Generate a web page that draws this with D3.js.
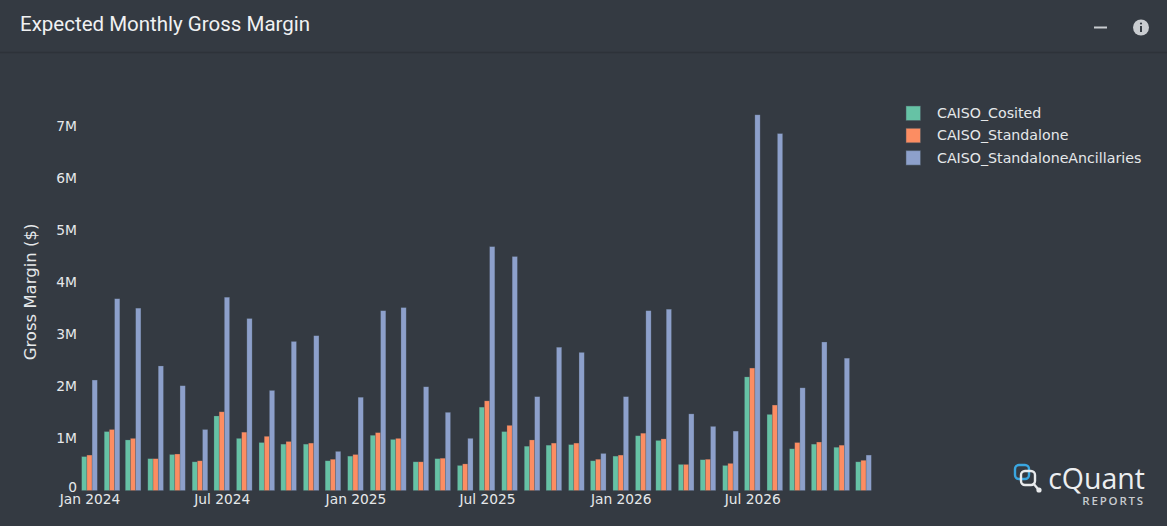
<!DOCTYPE html>
<html>
<head>
<meta charset="utf-8">
<script src="https://cdn.jsdelivr.net/npm/d3@7/dist/d3.min.js"></script>
<style>
  html, body { margin: 0; padding: 0; background: #343a42; }
  svg { display: block; }
</style>
</head>
<body>
<svg id="chart" width="1167" height="526"></svg>
<script>
// Monthly values, $M, Jan 2024 .. Dec 2026
const months = d3.range(36).map((i) => new Date(2024, i, 1));
const seriesNames = ['CAISO_Cosited', 'CAISO_Standalone', 'CAISO_StandaloneAncillaries'];
const seriesColors = ['#66c2a5', '#fc8d62', '#8da0cb'];

const cosited = [
	0.65, 1.13, 0.97, 0.61, 0.69, 0.55, 1.43, 1.00, 0.92, 0.89, 0.89, 0.57,
	0.66, 1.06, 0.98, 0.55, 0.61, 0.48, 1.60, 1.13, 0.85, 0.87, 0.88, 0.57,
	0.66, 1.05, 0.96, 0.50, 0.59, 0.48, 2.18, 1.46, 0.80, 0.89, 0.83, 0.55,
];
const standalone = [
	0.68, 1.17, 1.00, 0.61, 0.70, 0.57, 1.51, 1.12, 1.04, 0.94, 0.91, 0.60,
	0.69, 1.11, 1.00, 0.55, 0.62, 0.51, 1.72, 1.25, 0.97, 0.91, 0.91, 0.60,
	0.68, 1.10, 0.99, 0.50, 0.60, 0.52, 2.35, 1.64, 0.92, 0.93, 0.87, 0.58,
];
const ancillaries = [
	2.12, 3.68, 3.50, 2.39, 2.01, 1.17, 3.71, 3.30, 1.92, 2.86, 2.97, 0.75,
	1.79, 3.45, 3.51, 1.99, 1.50, 1.00, 4.68, 4.49, 1.80, 2.75, 2.65, 0.71,
	1.80, 3.45, 3.48, 1.47, 1.23, 1.14, 7.21, 6.85, 1.97, 2.85, 2.54, 0.68,
];
const seriesValues = [cosited, standalone, ancillaries];

const yTicks = [0, 1, 2, 3, 4, 5, 6, 7];
const xTickDates = [
	new Date(2024, 0, 1), new Date(2024, 6, 1), new Date(2025, 0, 1),
	new Date(2025, 6, 1), new Date(2026, 0, 1), new Date(2026, 6, 1),
];

const W = 1167;
const H = 526;
const TEXT = '#e6e8ea';
const TICK_FONT = '"DejaVu Sans", Verdana, sans-serif';
const UI_FONT = 'Roboto, "Liberation Sans", Arial, sans-serif';

const plot = { left: 80, right: 873, top: 100, bottom: 490.5 };
const GROUP_W = 15.6;
const BAR_W = GROUP_W / seriesNames.length;

const svg = d3.select('#chart');

// header strip
svg.append('rect').attr('width', W).attr('height', H).attr('fill', '#343a42');
svg.append('line')
	.attr('x1', 0).attr('x2', W).attr('y1', 52.5).attr('y2', 52.5)
	.attr('stroke', '#2d3239').attr('stroke-width', 1.5);
svg.append('text')
	.attr('x', 20).attr('y', 31)
	.attr('fill', '#f0f1f2').attr('font-family', UI_FONT)
	.attr('font-size', '20.5px')
	.text('Expected Monthly Gross Margin');

// minimise + info icons
svg.append('line')
	.attr('x1', 1094).attr('x2', 1107).attr('y1', 27.5).attr('y2', 27.5)
	.attr('stroke', '#c9ccd0').attr('stroke-width', 2);
svg.append('circle').attr('cx', 1141).attr('cy', 27.5).attr('r', 8).attr('fill', '#c9ccd0');
svg.append('rect').attr('x', 1140).attr('y', 26).attr('width', 2).attr('height', 6).attr('fill', '#343a42');
svg.append('circle').attr('cx', 1141).attr('cy', 23.5).attr('r', 1.1).attr('fill', '#343a42');

// scales — bars centred on the 1st of each month, like a date axis
const x = d3.scaleTime()
	.domain([months[0], months[months.length - 1]])
	.range([89.5, 863.5]);
const y = d3.scaleLinear()
	.domain([0, 7])
	.range([plot.bottom, plot.bottom - 7 * 52.1]);

// y axis
const yAxis = svg.append('g')
	.attr('transform', `translate(${plot.left - 3}, 0)`)
	.call(d3.axisLeft(y).tickValues(yTicks).tickSize(0).tickPadding(0)
		.tickFormat((d) => (d === 0 ? '0' : `${d}M`)));
yAxis.select('.domain').remove();
yAxis.selectAll('text')
	.attr('fill', TEXT).attr('font-family', TICK_FONT).attr('font-size', '13.8px')
	.attr('dy', (d) => (d === 0 ? '0.05em' : '0.32em'));

svg.append('text')
	.attr('transform', `translate(36, 292) rotate(-90)`)
	.attr('text-anchor', 'middle')
	.attr('fill', TEXT).attr('font-family', TICK_FONT).attr('font-size', '16.5px')
	.text('Gross Margin ($)');

// x axis
const xAxis = svg.append('g')
	.attr('transform', `translate(0, ${plot.bottom})`)
	.call(d3.axisBottom(x).tickValues(xTickDates).tickSize(0).tickPadding(4)
		.tickFormat(d3.timeFormat('%b %Y')));
xAxis.select('.domain').remove();
xAxis.selectAll('text')
	.attr('fill', TEXT).attr('font-family', TICK_FONT).attr('font-size', '13.8px');

// bars
const groups = svg.append('g').selectAll('g')
	.data(months)
	.join('g')
	.attr('transform', (d) => `translate(${x(d) - GROUP_W / 2}, 0)`);

groups.selectAll('rect')
	.data((d, i) => seriesValues.map((vals, s) => ({ s, v: vals[i] })))
	.join('rect')
	.attr('x', (d) => d.s * BAR_W)
	.attr('width', BAR_W)
	.attr('y', (d) => y(d.v))
	.attr('height', (d) => y(0) - y(d.v))
	.attr('fill', (d) => seriesColors[d.s])
	.attr('stroke', '#4a5560').attr('stroke-opacity', 0.5).attr('stroke-width', 0.5);

// legend
const legend = svg.append('g').attr('transform', 'translate(906, 106)');
seriesNames.forEach((name, i) => {
	const row = legend.append('g').attr('transform', `translate(0, ${i * 22.3})`);
	row.append('rect').attr('width', 14.5).attr('height', 14.5)
		.attr('fill', seriesColors[i]).attr('stroke', '#4a5560').attr('stroke-opacity', 0.5);
	row.append('text').attr('x', 31).attr('y', 7.2).attr('dy', '0.35em')
		.attr('fill', TEXT).attr('font-family', TICK_FONT).attr('font-size', '14.2px')
		.text(name);
});

// cQuant watermark
const logo = svg.append('g').attr('transform', 'translate(1015, 465)');
logo.append('rect').attr('x', 0).attr('y', 0).attr('width', 14).attr('height', 14).attr('rx', 4)
	.attr('fill', 'none').attr('stroke', '#3aa6e0').attr('stroke-width', 2.4);
logo.append('rect').attr('x', 6).attr('y', 6).attr('width', 14).attr('height', 14).attr('rx', 4)
	.attr('fill', 'none').attr('stroke', '#e8eaec').attr('stroke-width', 2.4);
logo.append('line').attr('x1', 18).attr('y1', 18).attr('x2', 23).attr('y2', 24)
	.attr('stroke', '#e8eaec').attr('stroke-width', 2.4);
logo.append('circle').attr('cx', 24).attr('cy', 25).attr('r', 2.6).attr('fill', '#e8eaec');
svg.append('text')
	.attr('x', 1145).attr('y', 489).attr('text-anchor', 'end')
	.attr('fill', '#eceef0').attr('font-family', '"Open Sans", sans-serif').attr('font-size', '28.5px')
	.text('cQuant');
svg.append('text')
	.attr('x', 1145).attr('y', 505).attr('text-anchor', 'end')
	.attr('fill', '#c8ccd0').attr('font-family', '"Open Sans", sans-serif').attr('font-size', '11.5px')
	.attr('font-weight', 600).attr('letter-spacing', '1.8px')
	.text('REPORTS');
</script>
</body>
</html>
